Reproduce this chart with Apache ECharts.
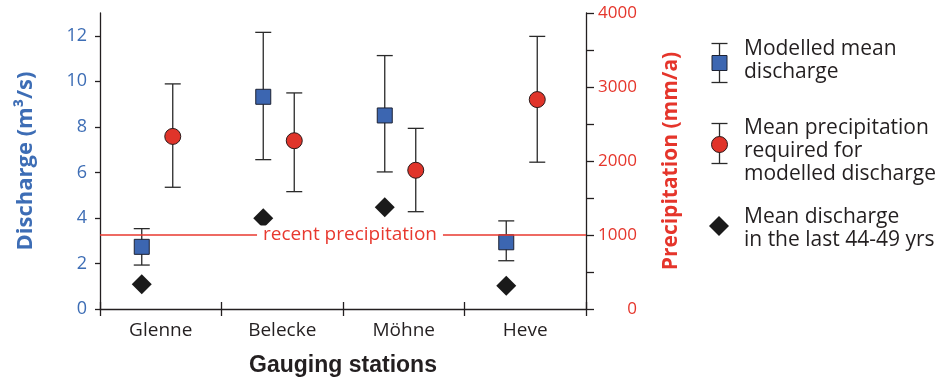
<!DOCTYPE html>
<html><head><meta charset="utf-8">
<script src="https://cdn.jsdelivr.net/npm/echarts@6/dist/echarts.min.js"></script>
<style>html,body{margin:0;padding:0;background:#fff}#c{width:936px;height:379px}</style>
</head><body><div id="c"></div>
<script>
const stations = ['Glenne', 'Belecke', 'Möhne', 'Heve'];
// Modelled mean discharge (m3/s) with error range
const modelMean = [2.73, 9.32, 8.50, 2.93];
const modelLow  = [1.93, 6.56, 6.02, 2.12];
const modelHigh = [3.53, 12.15, 11.13, 3.87];
// Mean precipitation required (mm/a) with range
const precipMean = [2332, 2274, 1875, 2830];
const precipLow  = [1645, 1586, 1315, 1984];
const precipHigh = [3042, 2920, 2441, 3684];
// Mean discharge in the last 44-49 yrs (m3/s)
const observed = [1.09, 3.99, 4.47, 1.02];
const recentPrecip = 1000;
const leftTicks = [0, 2, 4, 6, 8, 10, 12];
const rightLabels = [0, 1000, 2000, 3000, 4000];
const rightTicks = [0, 500, 1000, 1500, 2000, 2500, 3000, 3500, 4000];

const BLUE = '#3d6db5', RED = '#e5352b', INK = '#231f20';
const FONT = '"Open Sans", "Noto Sans", sans-serif';
const SQ_OFF = -19, CI_OFF = 12;

function errItem(off, shape) {
  return function (params, api) {
    const i = api.value(0);
    const c = api.coord([i, api.value(1)]);
    const lo = api.coord([i, api.value(2)]);
    const hi = api.coord([i, api.value(3)]);
    const x = c[0] + off, cw = 8;
    const ls = { stroke: '#2a2a2a', lineWidth: 1.3 };
    const children = [
      { type: 'line', shape: { x1: x, y1: hi[1], x2: x, y2: lo[1] }, style: ls },
      { type: 'line', shape: { x1: x - cw, y1: hi[1], x2: x + cw, y2: hi[1] }, style: ls },
      { type: 'line', shape: { x1: x - cw, y1: lo[1], x2: x + cw, y2: lo[1] }, style: ls }
    ];
    if (shape === 'rect') {
      children.push({ type: 'rect', shape: { x: x - 7.5, y: c[1] - 7.5, width: 15, height: 15 },
        style: { fill: '#3c66b1', stroke: '#1d2233', lineWidth: 1 } });
    } else {
      children.push({ type: 'circle', shape: { cx: x, cy: c[1], r: 8 },
        style: { fill: '#e0342a', stroke: '#2a1a1a', lineWidth: 1 } });
    }
    return { type: 'group', children };
  };
}
function diamondItem(off) {
  return function (params, api) {
    const c = api.coord([api.value(0), api.value(1)]);
    const x = c[0] + off, y = c[1], r = 10;
    return { type: 'polygon', shape: { points: [[x, y - r], [x + r, y], [x, y + r], [x - r, y]] },
      style: { fill: '#1a1a1a' } };
  };
}

const chart = echarts.init(document.getElementById('c'), null, { renderer: 'canvas' });
const axisLine = { show: true, lineStyle: { color: INK, width: 1.3 } };
chart.setOption({
  animation: false,
  backgroundColor: '#fff',
  grid: { left: 100, right: 350, top: 13, bottom: 70, containLabel: false, outerBoundsMode: 'none' },
  xAxis: [{
    type: 'category', data: stations, boundaryGap: true,
    axisLine: axisLine,
    axisTick: { show: true, interval: 0, length: 7, lineStyle: { color: INK, width: 1.3 } },
    axisLabel: { color: INK, fontFamily: FONT, fontSize: 19, margin: 12 },
    name: 'Gauging stations', nameLocation: 'middle', nameGap: 45,
    nameTextStyle: { color: INK, fontFamily: '"Liberation Sans", Arial, sans-serif', fontWeight: 'bold', fontSize: 23 }
  }, {
    type: 'category', data: stations, boundaryGap: true, position: 'bottom',
    axisLine: { show: false },
    axisTick: { show: true, inside: true, interval: 0, length: 7, lineStyle: { color: INK, width: 1.3 } },
    axisLabel: { show: false }
  }],
  yAxis: [{
    type: 'value', min: 0, max: 13, position: 'left',
    axisLine: axisLine, splitLine: { show: false },
    axisTick: { show: true, length: 5, customValues: leftTicks, lineStyle: { color: INK, width: 1.3 } },
    axisLabel: { color: BLUE, fontFamily: FONT, fontSize: 18, margin: 13, customValues: leftTicks },
    name: 'Discharge (m³/s)', nameLocation: 'middle', nameGap: 63, nameRotate: 90,
    nameTextStyle: { color: BLUE, fontFamily: FONT, fontWeight: 'bold', fontSize: 22 }
  }, {
    type: 'value', min: 0, max: 4000, position: 'right',
    axisLine: axisLine, splitLine: { show: false },
    axisTick: { show: true, length: 8, customValues: rightTicks, lineStyle: { color: INK, width: 1.3 } },
    axisLabel: { color: RED, fontFamily: FONT, fontSize: 17, margin: 51, customValues: rightLabels,
      align: 'right', formatter: function (v) { return String(v); } },
    name: 'Precipitation (mm/a)', nameLocation: 'middle', nameGap: 75, nameRotate: 90,
    nameTextStyle: { color: RED, fontFamily: FONT, fontWeight: 'bold', fontSize: 21 }
  }],
  series: [
    {
      type: 'custom', name: 'recent', yAxisIndex: 1, data: [],
      markLine: {
        silent: true, symbol: 'none',
        lineStyle: { color: '#e8392f', width: 1.6, type: 'solid' },
        label: { show: true, position: 'middle', formatter: 'recent precipitation', color: '#e8392f',
          fontFamily: FONT, fontSize: 19, distance: 0, verticalAlign: 'middle', offset: [7, 0],
          backgroundColor: '#fff', padding: [0, 6] },
        data: [{ yAxis: recentPrecip }]
      },
      renderItem: function () { return null; }
    },
    {
      type: 'custom', name: 'Mean discharge last 44-49 yrs', yAxisIndex: 0,
      data: observed.map((v, i) => [i, v]), renderItem: diamondItem(SQ_OFF), z: 3
    },
    {
      type: 'custom', name: 'Modelled mean discharge', yAxisIndex: 0,
      data: modelMean.map((v, i) => [i, v, modelLow[i], modelHigh[i]]), renderItem: errItem(SQ_OFF, 'rect'), z: 4
    },
    {
      type: 'custom', name: 'Mean precipitation required', yAxisIndex: 1,
      data: precipMean.map((v, i) => [i, v, precipLow[i], precipHigh[i]]), renderItem: errItem(CI_OFF, 'circle'), z: 4
    }
  ],
  graphic: [
    // legend item 1
    { type: 'group', left: 709, top: 41, children: [
      { type: 'line', shape: { x1: 10, y1: 0, x2: 10, y2: 39 }, style: { stroke: '#2a2a2a', lineWidth: 1.3 } },
      { type: 'line', shape: { x1: 2, y1: 0, x2: 18, y2: 0 }, style: { stroke: '#2a2a2a', lineWidth: 1.3 } },
      { type: 'line', shape: { x1: 2, y1: 39, x2: 18, y2: 39 }, style: { stroke: '#2a2a2a', lineWidth: 1.3 } },
      { type: 'rect', shape: { x: 2.5, y: 12, width: 15, height: 15 }, style: { fill: '#3c66b1', stroke: '#1d2233', lineWidth: 1 } }
    ]},
    { type: 'text', left: 744, top: 38, style: { text: 'Modelled mean\ndischarge', fill: INK, font: '21px ' + FONT, lineHeight: 23 } },
    // legend item 2
    { type: 'group', left: 709, top: 121, children: [
      { type: 'line', shape: { x1: 10, y1: 0, x2: 10, y2: 40 }, style: { stroke: '#2a2a2a', lineWidth: 1.3 } },
      { type: 'line', shape: { x1: 2, y1: 0, x2: 18, y2: 0 }, style: { stroke: '#2a2a2a', lineWidth: 1.3 } },
      { type: 'line', shape: { x1: 2, y1: 40, x2: 18, y2: 40 }, style: { stroke: '#2a2a2a', lineWidth: 1.3 } },
      { type: 'circle', shape: { cx: 10, cy: 21, r: 8 }, style: { fill: '#e0342a', stroke: '#2a1a1a', lineWidth: 1 } }
    ]},
    { type: 'text', left: 744, top: 117, style: { text: 'Mean precipitation\nrequired for\nmodelled discharge', fill: INK, font: '21px ' + FONT, lineHeight: 23 } },
    // legend item 3
    { type: 'polygon', shape: { points: [[719, 216], [729, 226], [719, 236], [709, 226]] }, style: { fill: '#1a1a1a' } },
    { type: 'text', left: 744, top: 206, style: { text: 'Mean discharge\nin the last 44-49 yrs', fill: INK, font: '21px ' + FONT, lineHeight: 23 } }
  ]
});
</script></body></html>
